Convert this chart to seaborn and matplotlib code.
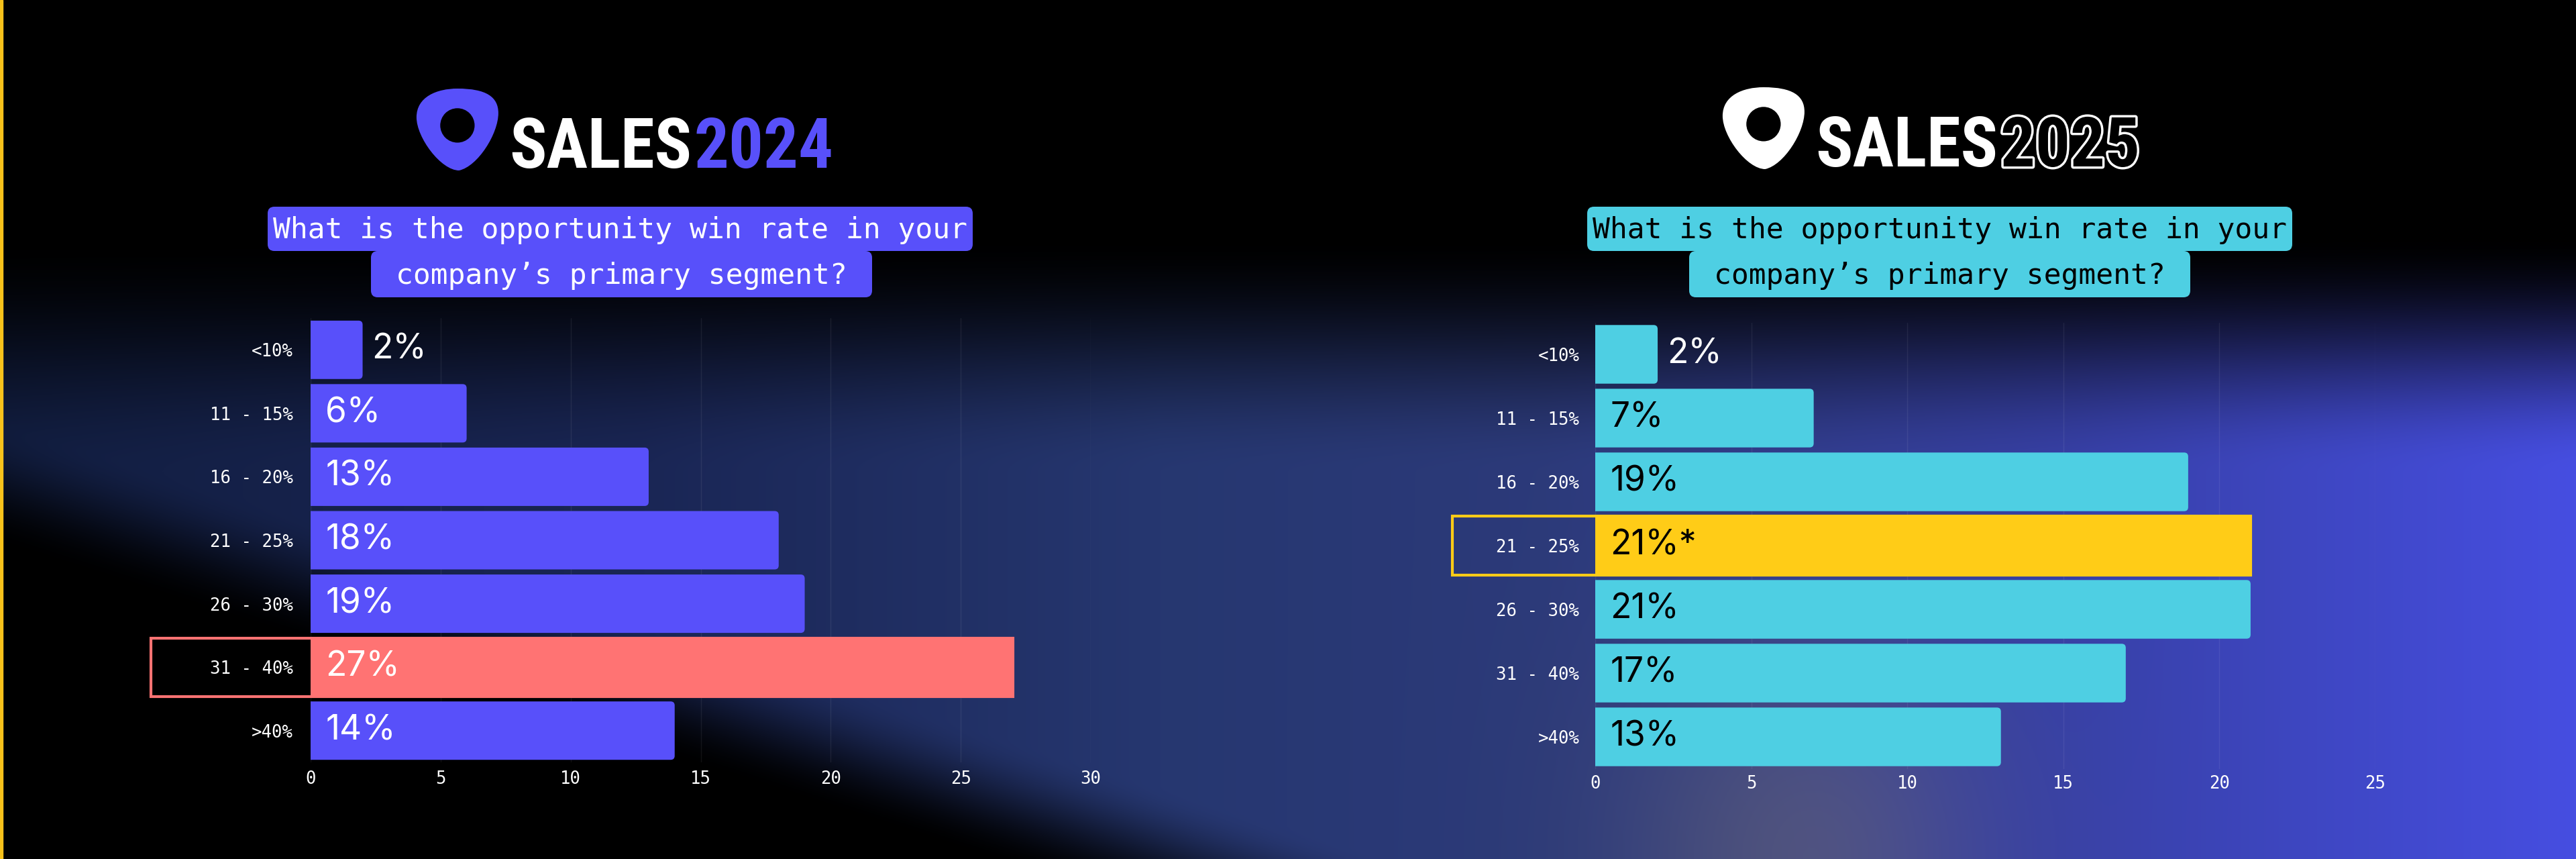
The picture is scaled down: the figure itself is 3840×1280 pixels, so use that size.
import numpy as np
import pandas as pd
import matplotlib
matplotlib.use('Agg')
import matplotlib.pyplot as plt
import matplotlib.patheffects as pe
import seaborn as sns
from matplotlib.patches import Rectangle, FancyBboxPatch, PathPatch, Ellipse
from matplotlib.path import Path

sns.set_theme(style='dark')

# ---- data ----
categories = ['<10%', '11 - 15%', '16 - 20%', '21 - 25%', '26 - 30%', '31 - 40%', '>40%']
values_2024 = [2, 6, 13, 18, 19, 27, 14]
values_2025 = [2, 7, 19, 21, 21, 17, 13]
labels_2024 = ['2%', '6%', '13%', '18%', '19%', '27%', '14%']
labels_2025 = ['2%', '7%', '19%', '21%*', '21%', '17%', '13%']
ticks_2024 = [0, 5, 10, 15, 20, 25, 30]
ticks_2025 = [0, 5, 10, 15, 20, 25]
highlight_2024 = '31 - 40%'
highlight_2025 = '21 - 25%'
question = ['What is the opportunity win rate in your', 'company\u2019s primary segment?']

PURPLE = '#5850FA'
SALMON = '#FF7373'
CYAN = '#4ECFE3'
YELLOW = '#FFCC17'

MONO = ['DejaVu Sans Mono']
SANS = ['Inter', 'DejaVu Sans']
LOGO_FONT = ['Liberation Sans Narrow', 'Roboto Condensed', 'DejaVu Sans']

W, H, DPI = 3840, 1280, 100
fig = plt.figure(figsize=(W / DPI, H / DPI), dpi=DPI, facecolor='black')

# ---- background layer, in pixel coordinates ----
deco = fig.add_axes([0, 0, 1, 1], zorder=0)
deco.set_xlim(0, W)
deco.set_ylim(H, 0)
deco.axis('off')


def smooth(a, b, t):
    s = np.clip((t - a) / (b - a), 0, 1)
    return s * s * (3 - 2 * s)


gh, gw = 256, 768
u = np.linspace(0, 1, gw)[None, :]
v = np.linspace(0, 1, gh)[:, None]
top = smooth(0.27, 0.55, v)
edge = 0.62 + 0.95 * u
low = 1 - smooth(edge - 0.13, edge + 0.02, v)
au = [0, 0.25, 0.45, 0.6, 0.8, 1.0]
chans = [[18, 26, 38, 44, 55, 70], [30, 38, 55, 58, 64, 78], [65, 85, 112, 122, 165, 225]]
col = np.stack([np.interp(u[0], au, c) for c in chans], -1)
warm = np.exp(-((u - 0.7) / 0.07) ** 2 - ((v - 1.0) / 0.25) ** 2)
rgb = col[None, :, :] * (top * low)[:, :, None] + (warm * top)[:, :, None] * np.array([30, 22, -15])
rgb = np.clip(rgb / 255, 0, 1)
deco.imshow(rgb, extent=(0, W, H, 0), aspect='auto', interpolation='bilinear', zorder=0)
deco.add_patch(Rectangle((0, 0), 4, H, color='#F7C21B', zorder=1))


def blob(x0, y0, w, h, color):
    rel = [(0.5, 0.0), (0.85, 0.0), (1.0, 0.1), (1.0, 0.3), (1.0, 0.55), (0.75, 0.95), (0.52, 1.0),
           (0.3, 1.0), (0.0, 0.6), (0.0, 0.35), (0.0, 0.1), (0.25, 0.0), (0.5, 0.0)]
    verts = [(x0 + a * w, y0 + b * h) for a, b in rel]
    codes = [Path.MOVETO] + [Path.CURVE4] * 12
    deco.add_patch(PathPatch(Path(verts, codes), fc=color, ec='none', zorder=2))
    deco.add_patch(Ellipse((x0 + 0.5 * w, y0 + 0.45 * h), 0.42 * w, 0.42 * h, fc='black', ec='none', zorder=3))


def logo(center_x, baseline, blob_color, year, year_color, outline):
    kw = dict(fontsize=74, fontweight='bold', family=LOGO_FONT, va='baseline', ha='left', zorder=3)
    t1 = deco.text(0, baseline, 'SALES', color='white', **kw)
    t2 = deco.text(0, baseline, year, color=year_color, **kw)
    if outline:
        t2.set_path_effects([pe.withStroke(linewidth=5, foreground='white')])
    r = fig.canvas.get_renderer()
    w1 = t1.get_window_extent(r).width
    w2 = t2.get_window_extent(r).width
    bw, gap = 122, 16
    x0 = center_x - (bw + gap + w1 + 4 + w2) / 2
    blob(x0, baseline - 118, bw, 122, blob_color)
    t1.set_x(x0 + bw + gap)
    t2.set_x(x0 + bw + gap + w1 + 4)


def question_box(left1, left2, right1, right2, color, text_color):
    rows = [(left1, right1, 308, 374), (left2, right2, 374, 443)]
    for (x0, x1, y0, y1), line in zip(rows, question):
        deco.add_patch(FancyBboxPatch((x0, y0), x1 - x0, y1 - y0,
                                      boxstyle='round,pad=0,rounding_size=10',
                                      fc=color, ec='none', zorder=2))
        deco.text((x0 + x1) / 2, (y0 + y1) / 2 + 2, line, color=text_color, fontsize=31,
                  family=MONO, ha='center', va='center', zorder=3)


logo(932, 250, PURPLE, '2024', PURPLE, False)
logo(2879, 248, 'white', '2025', 'black', True)
question_box(399, 553, 1450, 1300, PURPLE, 'white')
question_box(2366, 2518, 3417, 3265, CYAN, 'black')


# ---- the two bar charts ----
def panel(rect, values, labels, ticks, xmax, base, hl_cat, hl_color, text_color, box_left, ypad, xpad):
    ax_w = rect[2] - rect[0]
    ax_h = rect[3] - rect[1]
    ax = fig.add_axes([rect[0] / W, 1 - rect[3] / H, ax_w / W, ax_h / H], zorder=2)
    df = pd.DataFrame({'range': categories, 'share': values})
    pal = {c: (hl_color if c == hl_cat else base) for c in categories}
    sns.barplot(data=df, x='share', y='range', hue='range', palette=pal, legend=False,
                orient='h', width=0.92, saturation=1, linewidth=0, ax=ax)
    ax.set_xlim(0, xmax)
    ax.set_ylim(6.5, -0.5)
    ax.set_xticks(ticks)
    ax.set_xlabel('')
    ax.set_ylabel('')
    ax.set_facecolor('none')
    for s in ax.spines.values():
        s.set_visible(False)
    ax.grid(axis='x', color='white', alpha=0.07, lw=1)
    ax.grid(axis='y', visible=False)
    ax.set_axisbelow(True)
    ax.tick_params(axis='both', length=0, colors='white', labelsize=18.5)
    ax.tick_params(axis='y', pad=ypad)
    ax.tick_params(axis='x', pad=xpad)
    for t in ax.get_xticklabels() + ax.get_yticklabels():
        t.set_fontfamily(MONO)

    # softly rounded bar ends, same geometry as seaborn's bars
    r = 6 * xmax / ax_w                      # 6 px in x data units
    aspect = (7.0 / ax_h) / (xmax / ax_w)    # y units per px / x units per px
    for cont, cat, val, lbl in zip(ax.containers, categories, values, labels):
        bar = cont.patches[0]
        bar.set_visible(False)
        ax.add_patch(FancyBboxPatch((-r, bar.get_y()), bar.get_width() + r, bar.get_height(),
                                    boxstyle=f'round,pad=0,rounding_size={r}', mutation_aspect=aspect,
                                    fc=bar.get_facecolor(), ec='none', zorder=2))
        yc = bar.get_y() + bar.get_height() / 2
        if val < 4:
            ax.annotate(lbl, (val, yc), xytext=(10, 0), textcoords='offset points',
                        ha='left', va='center', color='white', fontsize=37, family=SANS, zorder=3)
        else:
            ax.annotate(lbl, (0, yc), xytext=(16, 0), textcoords='offset points',
                        ha='left', va='center', color=text_color, fontsize=37, family=SANS, zorder=3)
        if cat == hl_cat:
            x_left = box_left * xmax
            ax.add_patch(Rectangle((x_left, bar.get_y()), val - x_left, bar.get_height(),
                                   fill=False, ec=hl_color, lw=3, clip_on=False, zorder=4))
    return ax


panel((463, 474, 1626, 1136), values_2024, labels_2024, ticks_2024, 30,
      PURPLE, highlight_2024, SALMON, 'white', -0.2046, 19, 9)
panel((2378, 480.5, 3541, 1145.5), values_2025, labels_2025, ticks_2025, 25,
      CYAN, highlight_2025, YELLOW, 'black', -0.183, 17, 7)

fig.savefig('out.png', dpi=DPI, facecolor='black')
